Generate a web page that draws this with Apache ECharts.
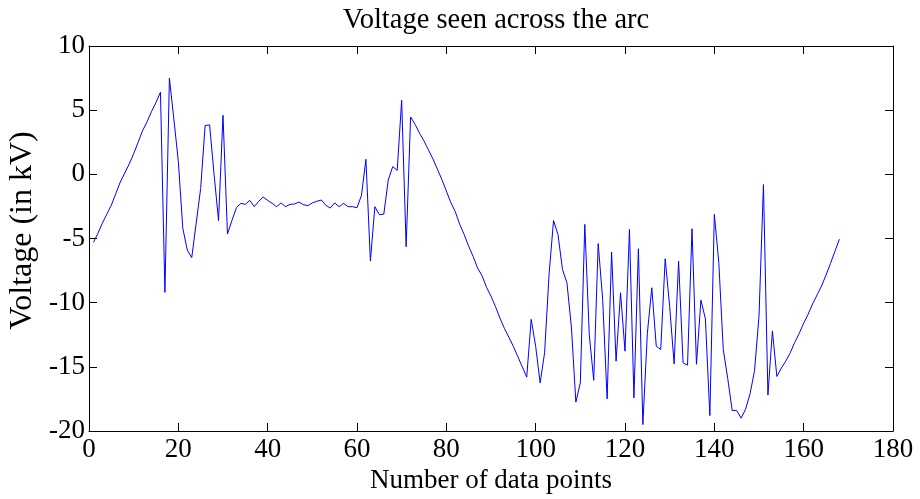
<!DOCTYPE html>
<html>
<head>
<meta charset="utf-8">
<script src="https://cdn.jsdelivr.net/npm/echarts@6/dist/echarts.min.js"></script>
<style>html,body{margin:0;padding:0;background:#fff}#c{width:920px;height:499px}</style>
</head>
<body>
<div id="c"></div>
<script>
const titleText = "Voltage seen across the arc";
const xName = "Number of data points";
const yName = "Voltage (in kV)";
const xTicks = { min: 0, max: 180, interval: 20 };
const yTicks = { min: -20, max: 10, interval: 5 };
const voltage = [
  -5.3, -4.6, -3.8, -3.1, -2.4, -1.5, -0.6, 0.1, 0.8, 1.6,
  2.5, 3.4, 4.1, 4.9, 5.6, 6.4, -9.2, 7.5, 4.3, 1.0,
  -4.2, -5.9, -6.5, -3.8, -1.1, 3.8, 3.85, 0.0, -3.6, 4.6,
  -4.65, -3.6, -2.6, -2.26, -2.34, -2.03, -2.52, -2.1, -1.77, -2.03,
  -2.26, -2.52, -2.23, -2.52, -2.34, -2.31, -2.16, -2.37, -2.44, -2.23,
  -2.1, -2.0, -2.4, -2.63, -2.23, -2.52, -2.26, -2.52, -2.52, -2.6,
  -1.64, 1.17, -6.76, -2.52, -3.15, -3.1, -0.44, 0.6, 0.31, 5.77,
  -5.64, 4.47, 3.9, 3.2, 2.6, 1.9, 1.2, 0.4, -0.4, -1.3,
  -2.2, -2.9, -3.9, -4.7, -5.6, -6.4, -7.3, -7.9, -8.8, -9.5,
  -10.3, -11.2, -12.0, -12.7, -13.4, -14.2, -15.0, -15.8, -11.3, -13.4,
  -16.25, -13.9, -7.8, -3.6, -4.7, -7.4, -8.45, -11.9, -17.75, -16.25,
  -3.9, -12.5, -16.05, -5.4, -9.75, -17.5, -6.06, -14.56, -9.23, -13.78,
  -4.29, -17.42, -5.8, -19.5, -12.4, -8.84, -13.39, -13.65, -6.58, -10.3,
  -14.77, -6.76, -14.69, -14.87, -4.24, -14.8, -9.8, -11.26, -18.8, -3.12,
  -6.87, -13.65, -15.9, -18.4, -18.4, -19.0, -18.3, -17.1, -15.3, -11.05,
  -0.8, -17.2, -12.2, -15.75, -15.1, -14.55, -13.9, -13.1, -12.4, -11.6,
  -10.9, -10.1, -9.4, -8.7, -7.85, -6.95, -6.0, -5.05
];

const font = "'Liberation Serif', 'Times New Roman', serif";
const chart = echarts.init(document.getElementById('c'), null, { renderer: 'canvas' });
const axisCommon = {
  axisLine: { show: true, onZero: false, lineStyle: { color: '#000', width: 1 } },
  axisTick: { show: true, inside: true, length: 8, lineStyle: { color: '#000', width: 1 } },
  splitLine: { show: false }
};
chart.setOption({
  animation: false,
  backgroundColor: '#fff',
  title: {
    text: titleText, left: 491, textAlign: 'center', top: 1,
    textStyle: { fontFamily: font, fontSize: 28.5, fontWeight: 'normal', color: '#000' }
  },
  grid: { left: 89, right: 27, top: 46, bottom: 68, containLabel: false, outerBoundsMode: 'none' },
  xAxis: [
    Object.assign({
      type: 'value', position: 'bottom', min: xTicks.min, max: xTicks.max, interval: xTicks.interval,
      name: xName, nameLocation: 'middle', nameGap: 36,
      nameTextStyle: { fontFamily: font, fontSize: 27, color: '#000' },
      axisLabel: { fontFamily: font, fontSize: 27, color: '#000', margin: 5 }
    }, axisCommon),
    Object.assign({
      type: 'value', position: 'top', min: xTicks.min, max: xTicks.max, interval: xTicks.interval,
      axisLabel: { show: false }
    }, axisCommon)
  ],
  yAxis: [
    Object.assign({
      type: 'value', position: 'left', min: yTicks.min, max: yTicks.max, interval: yTicks.interval,
      name: yName, nameLocation: 'middle', nameGap: 45,
      nameTextStyle: { fontFamily: font, fontSize: 32, color: '#000', padding: [0, 0, 0, 16] },
      axisLabel: { fontFamily: font, fontSize: 27, color: '#000', margin: 4 }
    }, axisCommon),
    Object.assign({
      type: 'value', position: 'right', min: yTicks.min, max: yTicks.max, interval: yTicks.interval,
      axisLabel: { show: false }
    }, axisCommon)
  ],
  series: [{
    type: 'line',
    data: voltage.map((v, i) => [i + 1, v]),
    showSymbol: false,
    lineStyle: { color: '#0000ff', width: 1 },
    itemStyle: { color: '#0000ff' }
  }]
});
</script>
</body>
</html>
